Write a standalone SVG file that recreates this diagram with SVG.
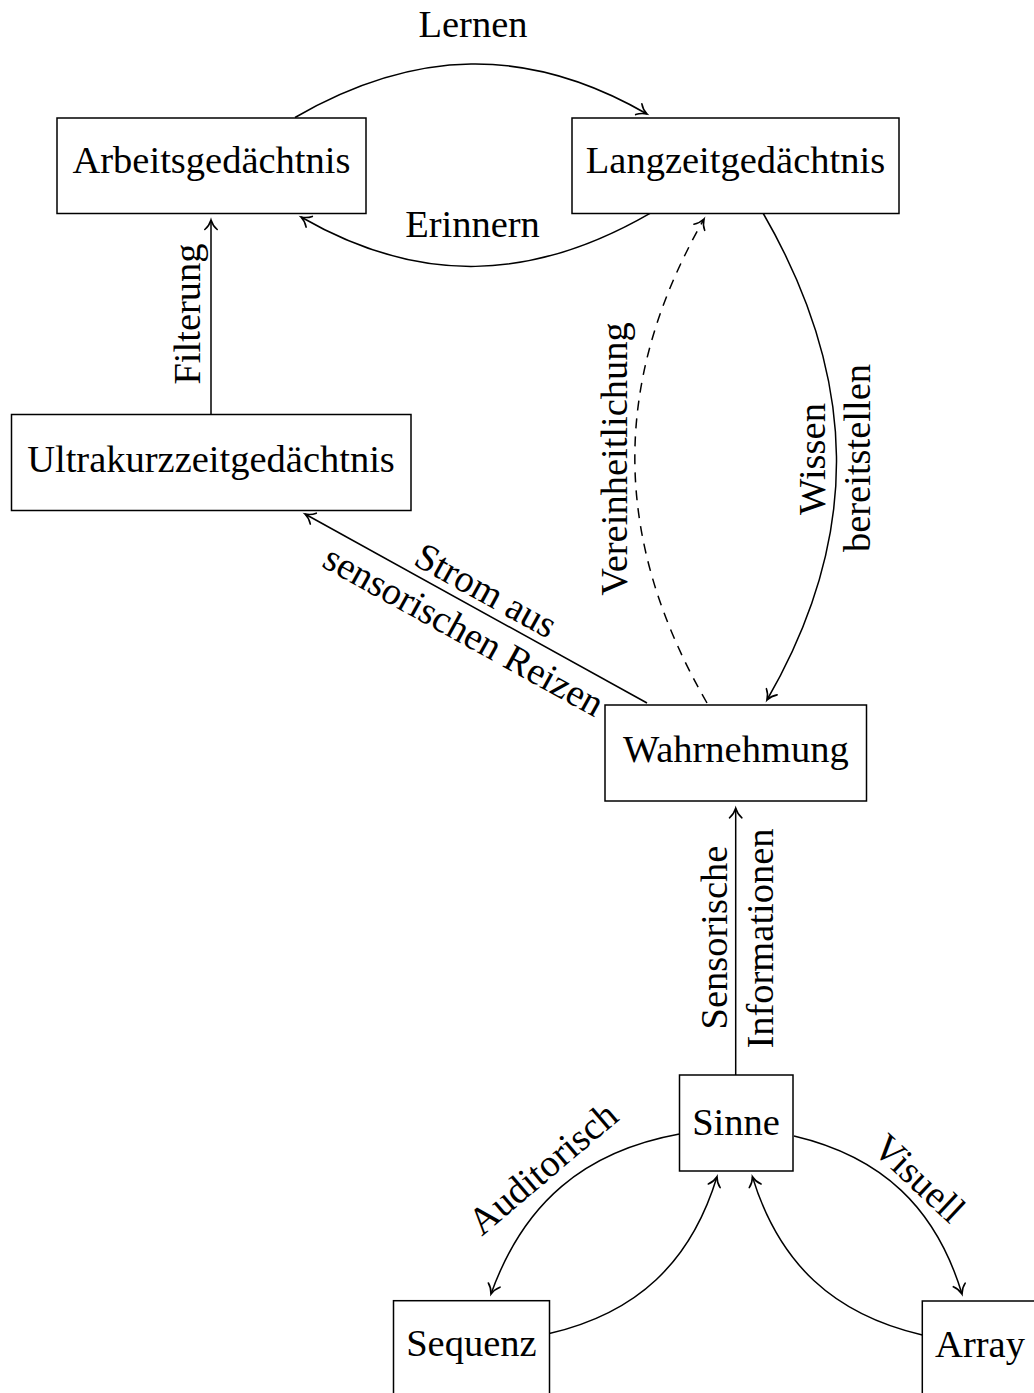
<svg xmlns="http://www.w3.org/2000/svg" width="1034" height="1393" viewBox="0 0 1034 1393">
<defs>
<style>
.box{fill:#fff;stroke:#000;stroke-width:1.5}
.t{font-family:"Liberation Serif","DejaVu Serif",serif;font-size:38.5px;fill:#000;text-anchor:middle}
.c{fill:none;stroke:#000;stroke-width:1.5}
.d{stroke-dasharray:10 8}
</style>
<marker id="ah" markerUnits="userSpaceOnUse" markerWidth="20" markerHeight="20" refX="0" refY="0" orient="auto" overflow="visible">
<path d="M-9.5,-6.2 C-6.8,-2.9 -2.3,-0.7 0,0 C-2.3,0.7 -6.8,2.9 -9.5,6.2" fill="none" stroke="#000" stroke-width="1.6" stroke-linecap="round" stroke-dasharray="none"/>
</marker>
</defs>
<rect width="1034" height="1393" fill="#fff"/>

<g id="connectors">
<path class="c" marker-end="url(#ah)" d="M295,117.5 C414.3,48.6 527.7,45.1 647,114"/>
<path class="c" marker-end="url(#ah)" d="M650,213.3 C531.7,281.6 419.3,285.3 301,217"/>
<path class="c" marker-end="url(#ah)" d="M211,414.3 L211,220"/>
<path class="c" marker-end="url(#ah)" d="M647,703 L305,514"/>
<path class="c d" marker-end="url(#ah)" d="M707,703 C612.3,538.9 610.3,383.1 704,219"/>
<path class="c" marker-end="url(#ah)" d="M763,213 C858.3,378 862.3,535 767,700"/>
<path class="c" marker-end="url(#ah)" d="M735.7,1075 L735.7,808.3"/>
<path class="c" marker-end="url(#ah)" d="M679.4,1134 C584.2,1151.3 523.5,1202.9 491,1294"/>
<path class="c" marker-end="url(#ah)" d="M549.3,1333.5 C636.9,1313.2 690.8,1262.6 717,1176.7"/>
<path class="c" marker-end="url(#ah)" d="M922.3,1335 C833.7,1314.5 779,1263.7 752.4,1176.7"/>
<path class="c" marker-end="url(#ah)" d="M794,1136 C881.9,1156.7 935.9,1207.6 962,1294"/>
<text class="t" x="473" y="36.7">Lernen</text>
<text class="t" x="472.5" y="236.7">Erinnern</text>
<text class="t" transform="translate(200,314) rotate(-90)">Filterung</text>
<g transform="translate(476,608.5) rotate(28.9)">
<text class="t" x="0" y="-8">Strom aus</text>
<text class="t" x="0" y="38">sensorischen Reizen</text>
</g>
<text class="t" transform="translate(626.7,459) rotate(-90)">Vereinheitlichung</text>
<text class="t" transform="translate(825,459) rotate(-90)">Wissen</text>
<text class="t" transform="translate(870,458) rotate(-90)">bereitstellen</text>
<text class="t" transform="translate(726.7,937.5) rotate(-90)">Sensorische</text>
<text class="t" transform="translate(772.7,938.5) rotate(-90)">Informationen</text>
<text class="t" transform="translate(551,1178) rotate(-40.3)">Auditorisch</text>
<text class="t" transform="translate(910.5,1187.5) rotate(43.2)">Visuell</text>
</g>

<g id="arbeitsgedaechtnis">
<rect class="box" x="57" y="118" width="309" height="95.5"/>
<text class="t" x="211.5" y="173.3">Arbeitsgedächtnis</text>
</g>
<g id="langzeitgedaechtnis">
<rect class="box" x="572" y="118" width="327" height="95.5"/>
<text class="t" x="735.5" y="173.3">Langzeitgedächtnis</text>
</g>
<g id="ultrakurzzeitgedaechtnis">
<rect class="box" x="11.5" y="414.5" width="399.5" height="96"/>
<text class="t" x="211" y="471.7">Ultrakurzzeitgedächtnis</text>
</g>
<g id="wahrnehmung">
<rect class="box" x="605" y="705" width="261.5" height="96"/>
<text class="t" x="735.8" y="761.7">Wahrnehmung</text>
</g>
<g id="sinne">
<rect class="box" x="679.5" y="1075" width="113.5" height="96"/>
<text class="t" x="736" y="1135">Sinne</text>
</g>
<g id="sequenz">
<rect class="box" x="393.5" y="1300.7" width="156" height="96"/>
<text class="t" x="471.4" y="1356">Sequenz</text>
</g>
<g id="array">
<rect class="box" x="922.3" y="1301" width="118" height="96"/>
<text class="t" x="980" y="1356.7">Array</text>
</g>
</svg>
